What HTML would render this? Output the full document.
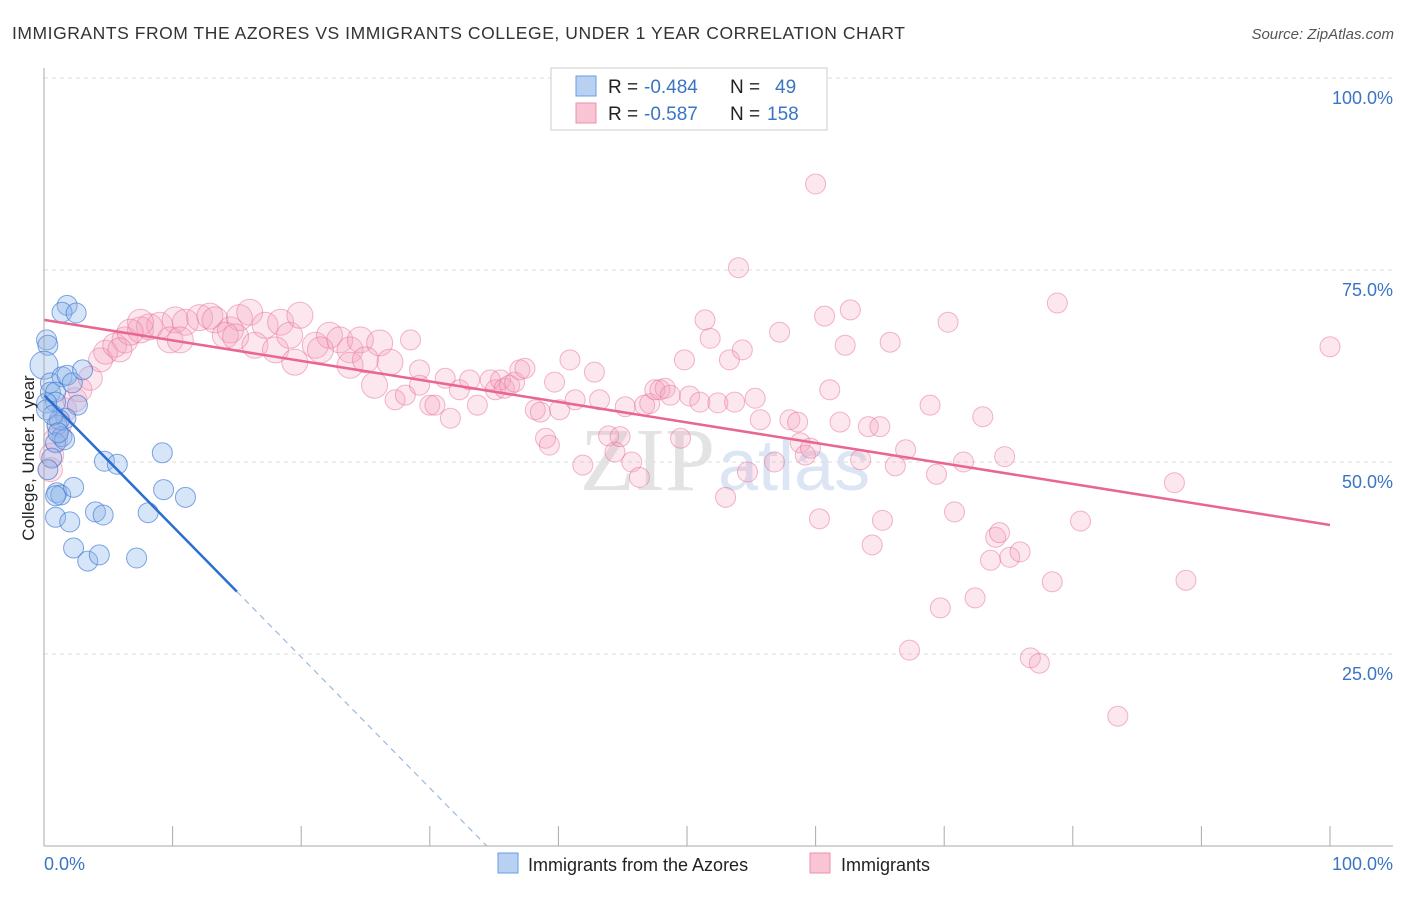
<!DOCTYPE html>
<html><head><meta charset="utf-8"><style>
body{margin:0;background:#fff;font-family:"Liberation Sans",sans-serif}
</style></head><body>
<svg id="c" width="1406" height="892" xmlns="http://www.w3.org/2000/svg">
<text x="12" y="39" font-size="17.5" fill="#333" textLength="893">IMMIGRANTS FROM THE AZORES VS IMMIGRANTS COLLEGE, UNDER 1 YEAR CORRELATION CHART</text>
<text x="1394" y="39" font-size="15" fill="#555" font-style="italic" text-anchor="end">Source: ZipAtlas.com</text>
<text x="715" y="490" font-size="90" font-family="Liberation Serif" fill="#e3e3e3" text-anchor="end">ZIP</text>
<text x="718" y="490" font-size="72" fill="#dbe5f3">atlas</text>
<g id="grid"></g><g id="pink"></g><g id="blue"></g><g id="lines"></g><g id="axes"></g>
<text x="34" y="458" font-size="17" fill="#222" text-anchor="middle" transform="rotate(-90 34 458)">College, Under 1 year</text>
<g>
<rect x="551" y="68" width="276" height="62" fill="#fff" stroke="#ccc"/>
<rect x="576" y="76" width="20" height="20" fill="#b8d1f3" stroke="#6a9ee0"/>
<rect x="576" y="103" width="20" height="20" fill="#f9c5d5" stroke="#ec8fab"/>
<text x="608" y="93" font-size="19" fill="#222">R = </text><text x="644" y="93" font-size="19" fill="#3a75c4">-0.484</text>
<text x="730" y="93" font-size="19" fill="#222">N =</text><text x="775" y="93" font-size="19" fill="#3a75c4">49</text>
<text x="608" y="120" font-size="19" fill="#222">R = </text><text x="644" y="120" font-size="19" fill="#3a75c4">-0.587</text>
<text x="730" y="120" font-size="19" fill="#222">N =</text><text x="767" y="120" font-size="19" fill="#3a75c4">158</text>
</g>
<g>
<rect x="498" y="853" width="20" height="20" fill="#b8d1f3" stroke="#6a9ee0"/>
<text x="528" y="871" font-size="18" fill="#222">Immigrants from the Azores</text>
<rect x="810" y="853" width="20" height="20" fill="#f9c5d5" stroke="#ec8fab"/>
<text x="841" y="871" font-size="18" fill="#222">Immigrants</text>
</g>
</svg>
<script>
const blueX=[1.8,1.4,2.5,0.2,0.3,0.0,0.5,1.4,1.8,2.2,3.0,0.5,0.9,0.9,2.6,1.7,1.0,1.4,0.9,1.6,0.6,4.7,5.7,9.2,1.0,1.3,2.3,0.9,2.0,4.0,4.6,8.1,9.3,11.0,2.3,3.4,4.3,7.2,0.2,0.2,1.2,0.7,0.3,1.1,0.9];
const blueY=[70.4,69.5,69.4,65.9,65.2,62.6,60.3,61.1,61.3,60.3,62.0,59.1,59.1,57.8,57.4,55.7,54.8,53.3,52.5,52.9,50.5,50.1,49.7,51.2,46.0,45.7,46.7,42.8,42.2,43.5,43.1,43.4,46.4,45.4,38.8,37.1,37.9,37.5,57.7,56.8,55.5,56.1,49.0,53.8,45.6];
const pinkX=[0.5,0.6,0.9,1.2,1.6,2.4,2.8,3.6,4.4,4.8,5.5,6.3,7.5,8.2,9.0,10.2,11.0,12.1,12.9,13.3,14.5,15.2,16.0,17.2,18.4,19.1,19.9,21.1,22.2,23.0,23.8,24.6,26.1,7.5,6.7,5.9,9.8,10.6,14.1,14.9,16.4,18.0,19.5,21.5,23.8,25.0,25.7,26.9,27.3,28.1,28.5,29.2,29.2,30.0,30.4,31.2,31.6,32.3,33.1,33.7,34.7,35.1,35.5,35.8,36.2,36.6,37.0,37.4,38.2,38.6,39.0,39.3,39.7,40.1,40.9,41.3,41.9,42.8,43.2,43.9,44.4,44.8,45.2,45.7,46.3,46.7,47.1,47.5,47.9,48.3,48.7,49.5,49.8,50.2,51.0,51.4,51.8,52.4,53.0,53.3,53.7,54.3,54.0,54.7,55.3,55.7,56.8,57.2,58.0,58.6,58.8,59.2,59.6,60.0,60.3,60.7,61.1,61.9,62.3,62.7,63.5,64.1,64.4,65.0,65.2,65.8,66.2,67.0,67.3,68.9,69.4,69.7,70.3,70.8,71.5,72.4,73.0,73.6,74.0,74.3,74.7,75.1,75.9,76.7,77.4,78.4,78.8,80.6,83.5,87.9,88.8,100.0];
const pinkY=[49.0,50.9,52.9,54.8,56.8,58.1,59.4,60.9,63.3,64.3,65.2,65.9,67.2,67.6,67.8,68.5,68.2,68.8,69.0,68.5,67.2,68.8,69.5,67.8,68.2,66.5,69.1,65.2,66.5,65.9,64.6,65.9,65.5,68.2,66.9,64.6,65.9,65.9,66.5,66.3,65.2,64.6,63.0,64.6,62.6,63.3,60.0,63.0,58.1,58.7,65.9,62.0,60.0,57.4,57.4,60.9,55.7,59.4,60.7,57.4,60.7,59.4,60.7,59.6,60.0,60.4,62.0,62.2,56.8,56.5,53.1,52.2,60.4,56.8,63.3,58.1,49.6,61.7,58.1,53.4,51.3,53.3,57.2,50.0,48.0,57.4,57.6,59.4,59.4,59.6,58.7,53.1,63.3,58.6,57.8,68.5,66.1,57.7,45.4,63.3,57.8,64.6,75.3,48.7,58.3,55.5,50.0,66.9,55.5,55.2,52.5,50.9,51.8,86.2,42.6,69.0,59.4,55.2,65.2,69.8,50.3,54.6,39.2,54.6,42.4,65.6,49.5,51.6,25.5,57.4,48.4,31.0,68.2,43.5,50.0,32.3,55.9,37.2,40.2,40.8,50.7,37.6,38.3,24.5,23.8,34.4,70.7,42.3,16.9,47.3,34.6,65.0];
const blueTrend=[58.7,-1.705];
const pinkTrend=[68.5,41.8];
const yTicks=[25,50,75,100];
const xTicks=[0,10,20,30,40,50,60,70,80,90,100];

const NS='http://www.w3.org/2000/svg';
const sx=v=>44+v*12.86, sy=v=>846-v*7.68;
function mk(p,tag,a){const e=document.createElementNS(NS,tag);for(const k in a)e.setAttribute(k,a[k]);document.getElementById(p).appendChild(e);return e;}
yTicks.forEach(t=>{
 const g=mk('grid','line',{x1:44,x2:1393,y1:sy(t),y2:sy(t),stroke:'#ddd','stroke-dasharray':'4,4'});
 
 
 const l=mk('axes','text',{x:1393,y:sy(t)+26,'font-size':18,fill:'#3a75c4','text-anchor':'end'});
 l.textContent=t.toFixed(1)+'%';
 
 
});
mk('axes','line',{x1:44,x2:44,y1:68,y2:846,stroke:'#aaa'});
mk('axes','line',{x1:44,x2:1393,y1:846,y2:846,stroke:'#aaa'});
xTicks.forEach(t=>{
 const k=mk('axes','line',{x1:sx(t),x2:sx(t),y1:826,y2:846,stroke:'#aaa'});
 
 
});
[[0,'start',44],[100,'end',1393]].forEach(([v,a,x])=>{
 const l=mk('axes','text',{x:x,y:870,'font-size':18,fill:'#3a75c4','text-anchor':a});
 l.textContent=v.toFixed(1)+'%';
 
 
});
pinkX.forEach((x,i)=>{
 const r=x<27?(x<6?12:13):10;
 const c=mk('pink','circle',{cx:sx(x),cy:sy(pinkY[i]),r:r,fill:'rgba(244,160,188,0.25)',stroke:'rgba(232,110,150,0.5)','stroke-width':1});
 
 
});
blueX.forEach((x,i)=>{
 const r=i===5?14:10;
 const c=mk('blue','circle',{cx:sx(x),cy:sy(blueY[i]),r:r,fill:'rgba(140,180,235,0.35)',stroke:'rgba(60,120,210,0.65)','stroke-width':1});
 
 
});
const bt=x=>blueTrend[0]+blueTrend[1]*x;
const xEnd=-blueTrend[0]/blueTrend[1];
const b1=mk('lines','line',{x1:sx(0),y1:sy(bt(0)),x2:sx(15),y2:sy(bt(15)),stroke:'#2a6fd0','stroke-width':2.5});


const b2=mk('lines','line',{x1:sx(15),y1:sy(bt(15)),x2:sx(xEnd),y2:sy(0),stroke:'#9ab8e0','stroke-width':1.2,'stroke-dasharray':'6,5'});


const p1=mk('lines','line',{x1:sx(0),y1:sy(pinkTrend[0]),x2:sx(100),y2:sy(pinkTrend[1]),stroke:'#e8668f','stroke-width':2.5});


</script>
</body></html>
